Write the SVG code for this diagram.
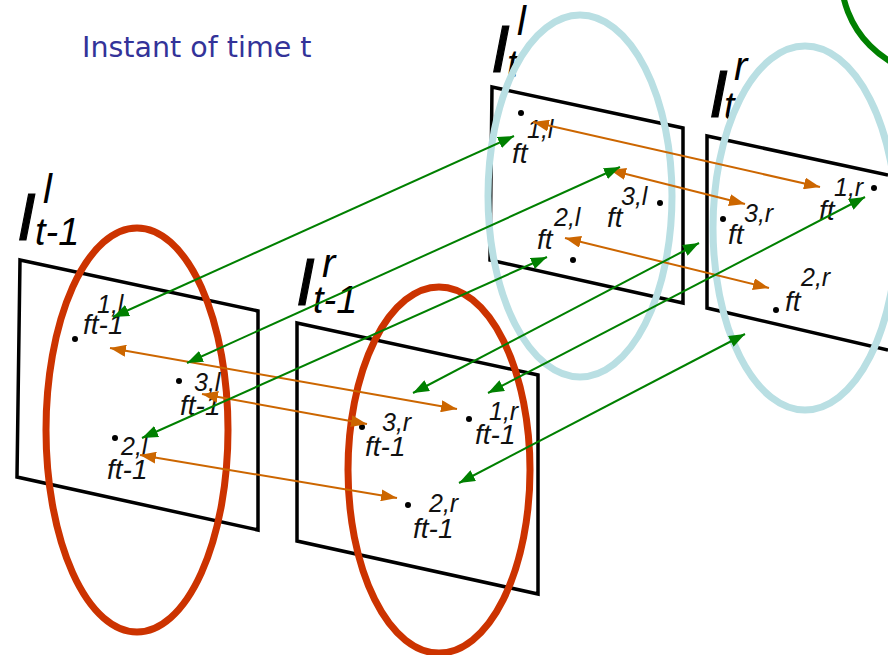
<svg xmlns="http://www.w3.org/2000/svg" width="888" height="655" viewBox="0 0 888 655">
<style>
.frame{fill:none;stroke:#000;stroke-width:3.5;stroke-linejoin:miter}
.big{font-family:"Liberation Sans",Arial,sans-serif;font-style:italic;fill:#000}
.bigI{font-size:67px;stroke:#000;stroke-width:1.2}
.bsup{font-size:40px}
.bsub{font-size:38px}
.ft{font-family:"Liberation Sans",Arial,sans-serif;font-style:italic;font-size:28px;fill:#111}
.sup{font-family:"Liberation Sans",Arial,sans-serif;font-style:italic;font-size:25px;fill:#111}
.dot{fill:#000}
.red{fill:none;stroke:#cc3300;stroke-width:7}
.blue{fill:none;stroke:#b9dfe3;stroke-width:7}
.grn{fill:none;stroke:#008000;stroke-width:6}
.og{stroke:#cc6600;stroke-width:2;fill:none;marker-start:url(#ao);marker-end:url(#ao)}
.gg{stroke:#008000;stroke-width:2;fill:none;marker-start:url(#ag);marker-end:url(#ag)}
.title{font-family:"DejaVu Sans",Verdana,sans-serif;font-size:28.5px;fill:#333399}
</style>
<defs>
<marker id="ao" viewBox="0 0 16 12" refX="16" refY="6" markerWidth="16" markerHeight="12" markerUnits="userSpaceOnUse" orient="auto-start-reverse"><path d="M0,0 L16,6 L0,12 z" fill="#cc6600"/></marker>
<marker id="ag" viewBox="0 0 16 12" refX="16" refY="6" markerWidth="16" markerHeight="12" markerUnits="userSpaceOnUse" orient="auto-start-reverse"><path d="M0,0 L16,6 L0,12 z" fill="#008000"/></marker>
</defs>
<rect width="888" height="655" fill="#fff"/>
<text class="title" x="82" y="57">Instant of time t</text>

<g id="frame-left-t-1">
<path class="frame" d="M20,260 L258,311 L258,530 L17,477 Z"/>
<text class="big bigI" x="17" y="240">I</text>
<text class="big bsup" x="43" y="203">l</text>
<text class="big bsub" x="35" y="245">t-1</text>
</g>
<g id="frame-right-t-1">
<path class="frame" d="M297,323 L538,375 L538,594 L297,541 Z"/>
<text class="big bigI" x="296" y="305">I</text>
<text class="big bsup" x="322" y="277">r</text>
<text class="big bsub" x="313" y="313">t-1</text>
</g>
<g id="frame-left-t">
<path class="frame" d="M492,87 L683,128 L683,303 L490,260 Z"/>
<text class="big bigI" x="491" y="72">I</text>
<text class="big bsup" x="517" y="35">l</text>
<text class="big bsub" x="507" y="77">t</text>
</g>
<g id="frame-right-t">
<path class="frame" d="M888,175 L707,136 L707,308 L888,350"/>
<text class="big bigI" x="709" y="117">I</text>
<text class="big bsup" x="734" y="80">r</text>
<text class="big bsub" x="724" y="119">t</text>
</g>

<g id="ellipses">
<ellipse class="red" cx="137" cy="430" rx="91" ry="202"/>
<ellipse class="red" cx="439" cy="470" rx="91" ry="183"/>
<ellipse class="blue" cx="580" cy="196" rx="92" ry="181"/>
<ellipse class="blue" cx="805" cy="228" rx="92" ry="182"/>
<ellipse class="grn" cx="940" cy="-25" rx="99" ry="100"/>
</g>

<g id="f1l-t-1"><circle class="dot" cx="75" cy="339" r="3"/><text class="sup" x="97" y="313">1,l</text><text class="ft" x="83" y="334">ft-1</text></g>
<g id="f3l-t-1"><circle class="dot" cx="179" cy="381" r="3"/><text class="sup" x="194" y="391">3,l</text><text class="ft" x="180" y="415">ft-1</text></g>
<g id="f2l-t-1"><circle class="dot" cx="115" cy="438" r="3"/><text class="sup" x="121" y="455">2,l</text><text class="ft" x="107" y="479">ft-1</text></g>
<g id="f3r-t-1"><circle class="dot" cx="362" cy="427" r="3"/><text class="sup" x="382" y="431">3,r</text><text class="ft" x="365" y="456">ft-1</text></g>
<g id="f1r-t-1"><circle class="dot" cx="469" cy="419" r="3"/><text class="sup" x="489" y="420">1,r</text><text class="ft" x="475" y="444">ft-1</text></g>
<g id="f2r-t-1"><circle class="dot" cx="408" cy="505" r="3"/><text class="sup" x="429" y="512">2,r</text><text class="ft" x="413" y="538">ft-1</text></g>
<g id="f1l-t"><circle class="dot" cx="521" cy="113" r="3"/><text class="sup" x="527" y="138">1,l</text><text class="ft" x="512" y="163">ft</text></g>
<g id="f3l-t"><circle class="dot" cx="660" cy="203" r="3"/><text class="sup" x="621" y="205">3,l</text><text class="ft" x="607" y="227">ft</text></g>
<g id="f2l-t"><circle class="dot" cx="573" cy="260" r="3"/><text class="sup" x="554" y="226">2,l</text><text class="ft" x="537" y="249">ft</text></g>
<g id="f1r-t"><circle class="dot" cx="874" cy="188" r="3"/><text class="sup" x="834" y="196">1,r</text><text class="ft" x="819" y="220">ft</text></g>
<g id="f3r-t"><circle class="dot" cx="723" cy="219" r="3"/><text class="sup" x="744" y="222">3,r</text><text class="ft" x="728" y="244">ft</text></g>
<g id="f2r-t"><circle class="dot" cx="776" cy="310" r="3"/><text class="sup" x="801" y="286">2,r</text><text class="ft" x="785" y="311">ft</text></g>

<g id="connectors">
<line class="og" x1="110" y1="348" x2="457" y2="409"/>
<line class="og" x1="202" y1="394" x2="367" y2="424"/>
<line class="og" x1="140" y1="455" x2="397" y2="498"/>
<line class="og" x1="533" y1="122" x2="820" y2="187"/>
<line class="og" x1="610" y1="170" x2="745" y2="204"/>
<line class="og" x1="565" y1="238" x2="769" y2="288"/>
<line class="gg" x1="113" y1="317" x2="514" y2="136"/>
<line class="gg" x1="187" y1="363" x2="620" y2="167"/>
<line class="gg" x1="142" y1="438" x2="547" y2="257"/>
<line class="gg" x1="413" y1="393" x2="699" y2="243"/>
<line class="gg" x1="488" y1="393" x2="865" y2="197"/>
<line class="gg" x1="459" y1="483" x2="745" y2="334"/>
</g>
</svg>
